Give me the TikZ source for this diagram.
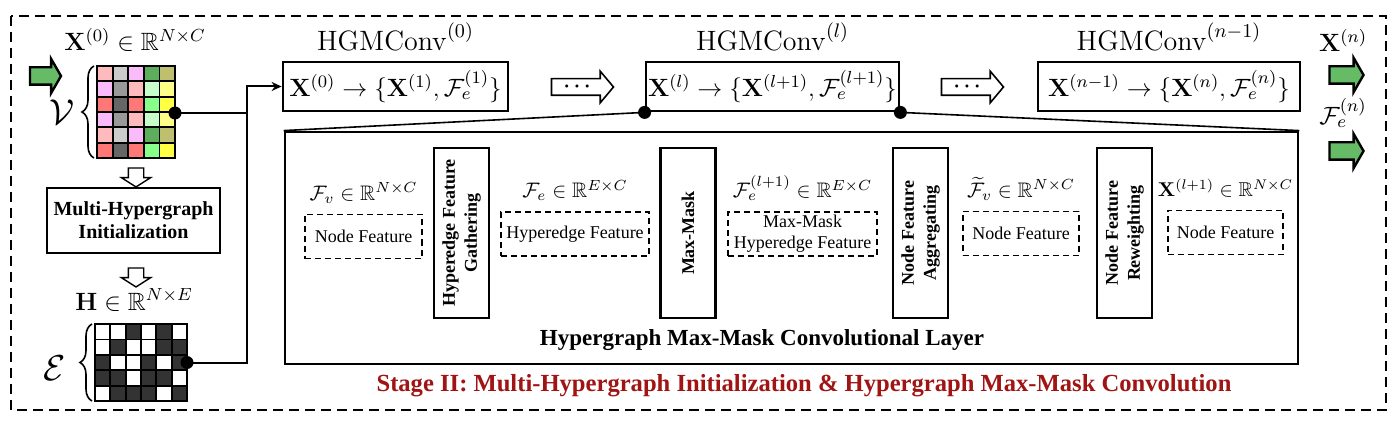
\RequirePackage{fix-cm}
\documentclass[tikz,border=0pt]{standalone}
\usepackage{amsmath,amssymb}
\usepackage[no-math]{fontspec}
\setmainfont{Liberation Serif}
\usepackage{tikz}
\usetikzlibrary{positioning,shapes.arrows,arrows.meta,decorations.pathreplacing}

\definecolor{cpink}{RGB}{255,187,187}
\definecolor{cgrey}{RGB}{204,204,204}
\definecolor{cmag}{RGB}{249,187,249}
\definecolor{cgreen}{RGB}{92,173,92}
\definecolor{colive}{RGB}{191,191,112}
\definecolor{cgreymid}{RGB}{153,153,153}
\definecolor{cgreenlt}{RGB}{200,255,200}
\definecolor{cyellowlt}{RGB}{255,255,136}
\definecolor{cred}{RGB}{255,119,119}
\definecolor{cgreydk}{RGB}{102,102,102}
\definecolor{cgreenbr}{RGB}{136,255,136}
\definecolor{cyellow}{RGB}{255,255,68}
\definecolor{hon}{RGB}{51,51,51}
\definecolor{hoff}{RGB}{255,255,255}
\definecolor{arrowgreen}{RGB}{102,187,102}
\definecolor{stagered}{RGB}{160,20,20}

\newcommand\eqfont{\fontsize{12.5}{15}\selectfont}
\newcommand\namefont{\fontsize{14}{17}\selectfont}
\newcommand\featmath{\fontsize{10.5}{12.5}\selectfont}
\newcommand\featfont{\fontsize{9}{10.5}\selectfont}
\newcommand\opfont{\fontsize{9}{11}\selectfont\bfseries}

\begin{document}
\begin{tikzpicture}
[ x=0.5pt, y=-0.5pt
, box/.style={rectangle, draw, line width=1.4pt, inner sep=0pt}
, eqbox/.style={box, minimum height=24.5pt, font=\eqfont}
, convname/.style={font=\namefont, inner sep=1pt, text height=11pt, text depth=1pt}
, opbox/.style={box, rotate=90, minimum width=85pt, minimum height=27.5pt, align=center, font=\opfont}
, featbox/.style={rectangle, draw, line width=0.75pt, dash pattern=on 3pt off 2pt, minimum height=22pt, inner sep=1pt, align=center, font=\featfont}
, featname/.style={font=\featmath, inner sep=1pt, text height=8.5pt, text depth=2.5pt}
, greenarrow/.style={single arrow, draw, fill=arrowgreen, line width=1.2pt, minimum height=#1, inner sep=0pt, inner ysep=3.75pt, text height=0pt, text depth=0pt, single arrow head extend=4.25pt, single arrow tip angle=120}
, greenarrow/.default=15.5pt
, downarrow/.style={single arrow, draw, fill=white, line width=0.7pt, rotate=270, minimum height=9.5pt, inner sep=0pt, inner ysep=3.5pt, text height=0pt, text depth=0pt, single arrow head extend=3.5pt, single arrow tip angle=115}
, dotsarrow/.style={single arrow, draw, line width=0.8pt, minimum height=31pt, inner xsep=2pt, inner ysep=1.25pt, text height=5pt, text depth=0pt, single arrow head extend=3.75pt, single arrow tip angle=100, font=\fontsize{10}{12}\selectfont}
, cell/.style={draw, line width=0.9pt}
, dot/.style={circle, fill, inner sep=0pt, minimum size=6.5pt}
, link/.style={line width=1pt}
, brace/.style={decorate, decoration={brace, amplitude=6pt}, line width=0.8pt}
, outerframe/.style={draw, line width=1pt, dash pattern=on 5pt off 3pt}
]
\useasboundingbox (0,0) rectangle (1396,422);
\draw[outerframe] (11,16) rectangle (1386,410);

% Input features and hypergraph
\node (xin) [font=\eqfont] at (135,40) {$\mathbf{X}^{(0)}\in\mathbb{R}^{N\times C}$};
\node (inarrow) [greenarrow] at (43,76) {};
\foreach \crow [count=\i from 0] in {{cpink,cgrey,cmag,cgreen,colive},{cmag,cgreymid,cpink,cgreenlt,cyellowlt},{cred,cgreydk,cred,cgreenbr,cyellow},{cmag,cgreymid,cpink,cgreenlt,cyellowlt},{cpink,cgrey,cmag,cgreen,colive},{cred,cgreydk,cred,cgreenbr,cyellow}}
  \foreach \ccol [count=\j from 0] in \crow
    \draw[cell, fill=\ccol] (97+\j*15.6,66+\i*15.33) rectangle ++(15.6,15.33);
\node (vdot) [dot] at (175,113) {};
\draw[brace] (94,158) -- (94,66);
\node (vname) [font=\fontsize{18}{22}\selectfont] at (62,112) {$\mathcal{V}$};
\node (down1) [downarrow] at (136,175) {};
\node (init) [box, minimum width=86.5pt, minimum height=32.5pt, align=center, font=\fontsize{10}{11.5}\selectfont\bfseries] at (133.5,220.5) {Multi-Hypergraph\\Initialization};
\node (down2) [downarrow] at (136,275) {};
\node (hname) [font=\eqfont] at (134,300) {$\mathbf{H}\in\mathbb{R}^{N\times E}$};
\foreach \crow [count=\i from 0] in {{hoff,hoff,hon,hoff,hon,hoff},{hoff,hon,hoff,hoff,hon,hon},{hon,hoff,hoff,hon,hoff,hon},{hon,hon,hoff,hon,hon,hoff},{hoff,hon,hon,hon,hoff,hon}}
  \foreach \ccol [count=\j from 0] in \crow
    \draw[cell, fill=\ccol] (95+\j*15.33,324+\i*15.4) rectangle ++(15.33,15.4);
\node (edot) [dot] at (187,362.5) {};
\draw[brace] (92,401) -- (92,324);
\node (ename) [font=\fontsize{18}{22}\selectfont] at (55,368) {$\mathcal{E}$};

% HGMConv chain
\node (conv0) [eqbox, minimum width=112.5pt] at (395.5,86.5) {$\mathbf{X}^{(0)}\rightarrow\{\mathbf{X}^{(1)},\mathcal{F}_e^{(1)}\}$};
\node (convl) [eqbox, minimum width=126.5pt] at (772.5,86.5) {$\mathbf{X}^{(l)}\rightarrow\{\mathbf{X}^{(l+1)},\mathcal{F}_e^{(l+1)}\}$};
\node (convn) [eqbox, minimum width=131pt] at (1169,86.5) {$\mathbf{X}^{(n-1)}\rightarrow\{\mathbf{X}^{(n)},\mathcal{F}_e^{(n)}\}$};
\node (name0) [convname, above=3pt of conv0] {$\mathrm{HGMConv}^{(0)}$};
\node (namel) [convname, above=3pt of convl] {$\mathrm{HGMConv}^{(l)}$};
\node (namen) [convname, above=3pt of convn] {$\mathrm{HGMConv}^{(n-1)}$};
\node (skip1) [dotsarrow] at (579,87) {$\boldsymbol{\cdots}$};
\node (skip2) [dotsarrow] at (969,87) {$\boldsymbol{\cdots}$};
\node (xout) [font=\eqfont] at (1343,40) {$\mathbf{X}^{(n)}$};
\node (xarrow) [greenarrow=17pt] at (1344,75) {};
\node (fout) [font=\eqfont] at (1343,113) {$\mathcal{F}_e^{(n)}$};
\node (farrow) [greenarrow=17pt] at (1344,151) {};

\coordinate (trunk) at (247,0);
\draw[link, -{Stealth[length=5pt,width=4.5pt]}] (edot.center) -| (trunk |- conv0.west) -- (conv0.west);
\draw[link] (vdot.center) -- (vdot.center -| trunk);

% Max-mask convolutional layer
\node (layer) [box, minimum width=506.5pt, minimum height=116pt] at (791.5,248) {};
\node (dl) [dot] at (convl.south west) {};
\node (dr) [dot] at (convl.south east) {};
\draw[line width=0.8pt] (dl.center) -- (layer.north west);
\draw[line width=0.8pt] (dr.center) -- (layer.north east);

\node (gather) [opbox] at (461.5,233) {Hyperedge Feature\\Gathering};
\node (maxmask) [opbox] at (688,233) {Max-Mask};
\node (aggr) [opbox] at (920.5,233) {Node Feature\\Aggregating};
\node (reweight) [opbox] at (1124.5,233) {Node Feature\\Reweighting};

\node (nfv) [featbox, minimum width=58.5pt] at (363.5,236.5) {Node Feature};
\node (hfe) [featbox, minimum width=74pt] at (575,234) {Hyperedge Feature};
\node (mhfe) [featbox, minimum width=74.5pt] at (802.5,234) {Max-Mask\\Hyperedge Feature};
\node (nfa) [featbox, minimum width=58pt] at (1021,233.5) {Node Feature};
\node (nfr) [featbox, minimum width=57.5pt] at (1225.5,232.5) {Node Feature};
\node (fvname) [featname, above=3pt of nfv] {$\mathcal{F}_v\in\mathbb{R}^{N\times C}$};
\node (fename) [featname, above=3pt of hfe] {$\mathcal{F}_e\in\mathbb{R}^{E\times C}$};
\node (mfename) [featname, above=3pt of mhfe] {$\mathcal{F}_e^{(l+1)}\in\mathbb{R}^{E\times C}$};
\node (afvname) [featname, above=3pt of nfa] {$\widetilde{\mathcal{F}}_v\in\mathbb{R}^{N\times C}$};
\node (xname) [featname, above=3pt of nfr, font=\fontsize{10}{12}\selectfont] {$\mathbf{X}^{(l+1)}\in\mathbb{R}^{N\times C}$};

\node (layername) [font=\fontsize{11.5}{14}\selectfont\bfseries] at (762,340) {Hypergraph Max-Mask Convolutional Layer};
\node (stage) [font=\fontsize{12.3}{15}\selectfont\bfseries, text=stagered] at (804,386) {Stage II: Multi-Hypergraph Initialization \& Hypergraph Max-Mask Convolution};
\end{tikzpicture}
\end{document}
